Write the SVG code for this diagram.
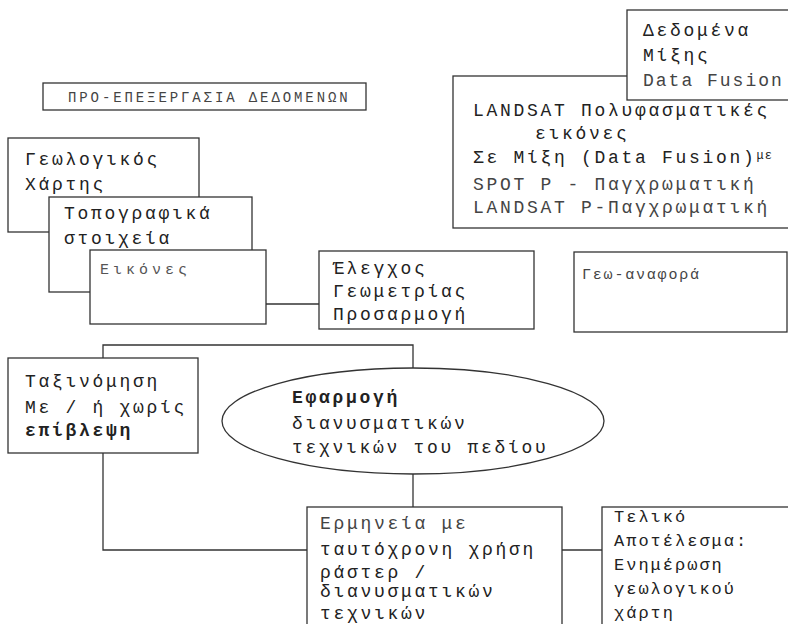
<svg xmlns="http://www.w3.org/2000/svg" width="788" height="624" viewBox="0 0 788 624">
<style>
.box{fill:#fff;stroke:#333;stroke-width:1.3}
.con{fill:none;stroke:#333;stroke-width:1.3}
.t{font-family:"Liberation Mono","DejaVu Sans Mono",monospace;font-size:18px;letter-spacing:2.7px;fill:#222}
.s{font-size:15px;letter-spacing:4px;fill:#555}
.f{font-size:17px;letter-spacing:2px}
</style>
<rect width="788" height="624" fill="#fff"/>
<g id="connectors">
<path class="con" d="M266,304 H319"/>
<path class="con" d="M103,358 V345 H413 V369"/>
<path class="con" d="M413,474 V507"/>
<path class="con" d="M103,453 V550 H307"/>
<path class="con" d="M562,550 H602"/>
</g>
<g id="prep">
<rect class="box" x="43" y="83" width="323" height="27"/>
<text class="t" x="68" y="102" style="font-size:14px;letter-spacing:2.9px;fill:#444">ΠΡΟ-ΕΠΕΞΕΡΓΑΣΙΑ ΔΕΔΟΜΕΝΩΝ</text>
</g>
<g id="geomap">
<rect class="box" x="8" y="138" width="191" height="94"/>
<text class="t" x="25" y="165">Γεωλογικός</text>
<text class="t" x="25" y="190">Χάρτης</text>
</g>
<g id="topo">
<rect class="box" x="49" y="197" width="203" height="95"/>
<text class="t" x="64" y="219">Τοπογραφικά</text>
<text class="t" x="64" y="244">στοιχεία</text>
</g>
<g id="images">
<rect class="box" x="90" y="250" width="176" height="74"/>
<text class="t s" x="100" y="274">Εικόνες</text>
</g>
<g id="geometry">
<rect class="box" x="319" y="251" width="215" height="78"/>
<text class="t" x="333" y="274">Έλεγχος</text>
<text class="t" x="333" y="297">Γεωμετρίας</text>
<text class="t" x="333" y="320">Προσαρμογή</text>
</g>
<g id="georef">
<rect class="box" x="574" y="252" width="213" height="80"/>
<text class="t" x="582" y="279" style="font-size:15px;letter-spacing:1.8px;fill:#444">Γεω-αναφορά</text>
</g>
<g id="fusion">
<rect class="box" x="453" y="76" width="345" height="152"/>
<text class="t" x="473" y="116">LANDSAT Πολυφασματικές</text>
<text class="t" x="535" y="139">εικόνες</text>
<text class="t" x="473" y="163">Σε Μίξη (Data Fusion)<tspan style="font-size:12px;letter-spacing:1px" dy="-4">με</tspan></text>
<text class="t" x="473" y="190" style="fill:#444">SPOT P - Παγχρωματική</text>
<text class="t" x="473" y="213" style="fill:#444">LANDSAT P-Παγχρωματική</text>
</g>
<g id="fusion-label">
<rect class="box" x="627" y="10" width="170" height="90"/>
<text class="t" x="643" y="36">Δεδομένα</text>
<text class="t" x="643" y="61">Μίξης</text>
<text class="t" x="643" y="86" style="fill:#444;letter-spacing:2px">Data Fusion</text>
</g>
<g id="classification">
<rect class="box" x="8" y="358" width="190" height="95"/>
<text class="t" x="25" y="387">Ταξινόμηση</text>
<text class="t" x="25" y="413">Με / ή χωρίς</text>
<text class="t" x="25" y="436" style="font-weight:bold">επίβλεψη</text>
</g>
<g id="vector">
<ellipse class="box" cx="413" cy="421" rx="191" ry="53"/>
<text class="t" x="292" y="403" style="font-weight:bold">Εφαρμογή</text>
<text class="t" x="292" y="429">διανυσματικών</text>
<text class="t" x="292" y="453">τεχνικών του πεδίου</text>
</g>
<g id="interpretation">
<rect class="box" x="307" y="507" width="255" height="130"/>
<text class="t" x="320" y="529" style="fill:#444">Ερμηνεία με</text>
<text class="t" x="320" y="555">ταυτόχρονη χρήση</text>
<text class="t" x="320" y="578">ράστερ /</text>
<text class="t" x="320" y="597">διανυσματικών</text>
<text class="t" x="320" y="619">τεχνικών</text>
</g>
<g id="final">
<rect class="box" x="602" y="507" width="195" height="130"/>
<text class="t f" x="614" y="522">Τελικό</text>
<text class="t f" x="614" y="546">Αποτέλεσμα:</text>
<text class="t f" x="614" y="570">Ενημέρωση</text>
<text class="t f" x="614" y="594">γεωλογικού</text>
<text class="t f" x="614" y="618">χάρτη</text>
</g>
</svg>
